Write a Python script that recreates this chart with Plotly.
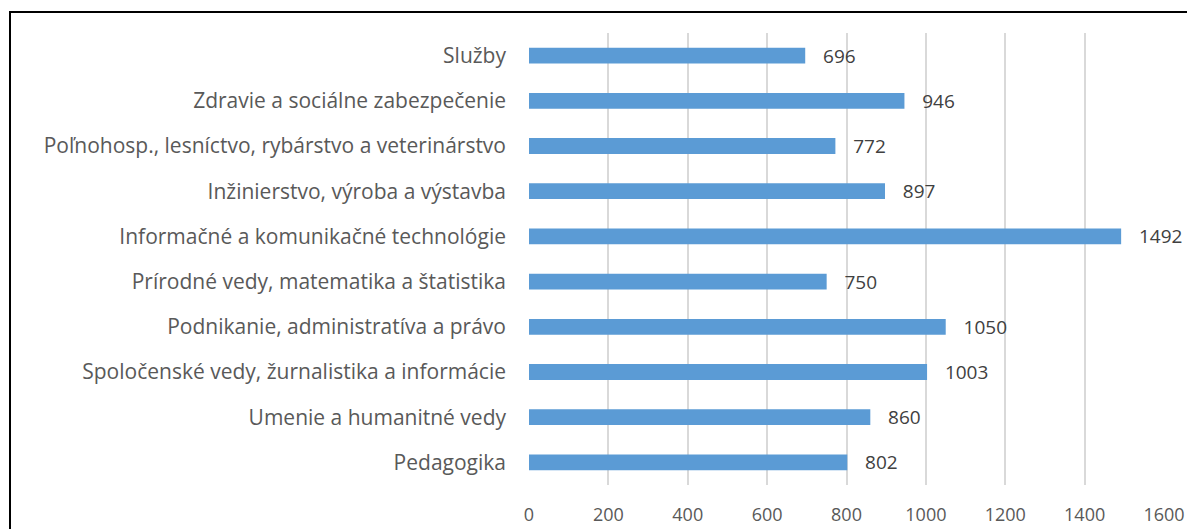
import plotly.graph_objects as go

categories = [
    'Pedagogika',
    'Umenie a humanitné vedy',
    'Spoločenské vedy, žurnalistika a informácie',
    'Podnikanie, administratíva a právo',
    'Prírodné vedy, matematika a štatistika',
    'Informačné a komunikačné technológie',
    'Inžinierstvo, výroba a výstavba',
    'Poľnohosp., lesníctvo, rybárstvo a veterinárstvo',
    'Zdravie a sociálne zabezpečenie',
    'Služby',
]
values = [802, 860, 1003, 1050, 750, 1492, 897, 772, 946, 696]

# the page puts the figure 8px in from the top-left corner
W, H = 1195, 529
left, right, top, bottom = 521, 39, 25, 52
plot_w = W - left - right
plot_h = H - top - bottom

fig = go.Figure(go.Bar(
    x=values,
    y=categories,
    orientation='h',
    marker=dict(color='#5B9BD5', line=dict(width=0)),
    text=[f'   {v}' for v in values],
    textposition='outside',
    constraintext='none',
    textfont=dict(family='Open Sans', size=19, color='#404040'),
    cliponaxis=False,
))

fig.update_layout(
    width=W,
    height=H,
    margin=dict(l=left, r=right, t=top, b=bottom),
    paper_bgcolor='white',
    plot_bgcolor='white',
    bargap=0.65,
    showlegend=False,
    font=dict(family='Open Sans', size=18, color='#595959'),
    xaxis=dict(
        range=[0, 1600],
        dtick=200,
        showgrid=True,
        gridcolor='#D9D9D9',
        gridwidth=1.5,
        zeroline=False,
        showline=False,
        ticks='',
        automargin=False,
        ticklabelstandoff=17,
        tickfont=dict(size=18, color='#595959'),
    ),
    yaxis=dict(
        showgrid=False,
        showline=False,
        ticks='',
        automargin=False,
        ticklabelstandoff=22,
        tickfont=dict(size=21, color='#595959'),
    ),
)

# chart frame
fig.add_shape(
    type='rect', xref='paper', yref='paper',
    x0=(2 - left) / plot_w, x1=1.2,
    y0=-0.3, y1=1 + (top - 4) / plot_h,
    line=dict(color='black', width=2),
    layer='below',
)

fig.write_html("out.html")
